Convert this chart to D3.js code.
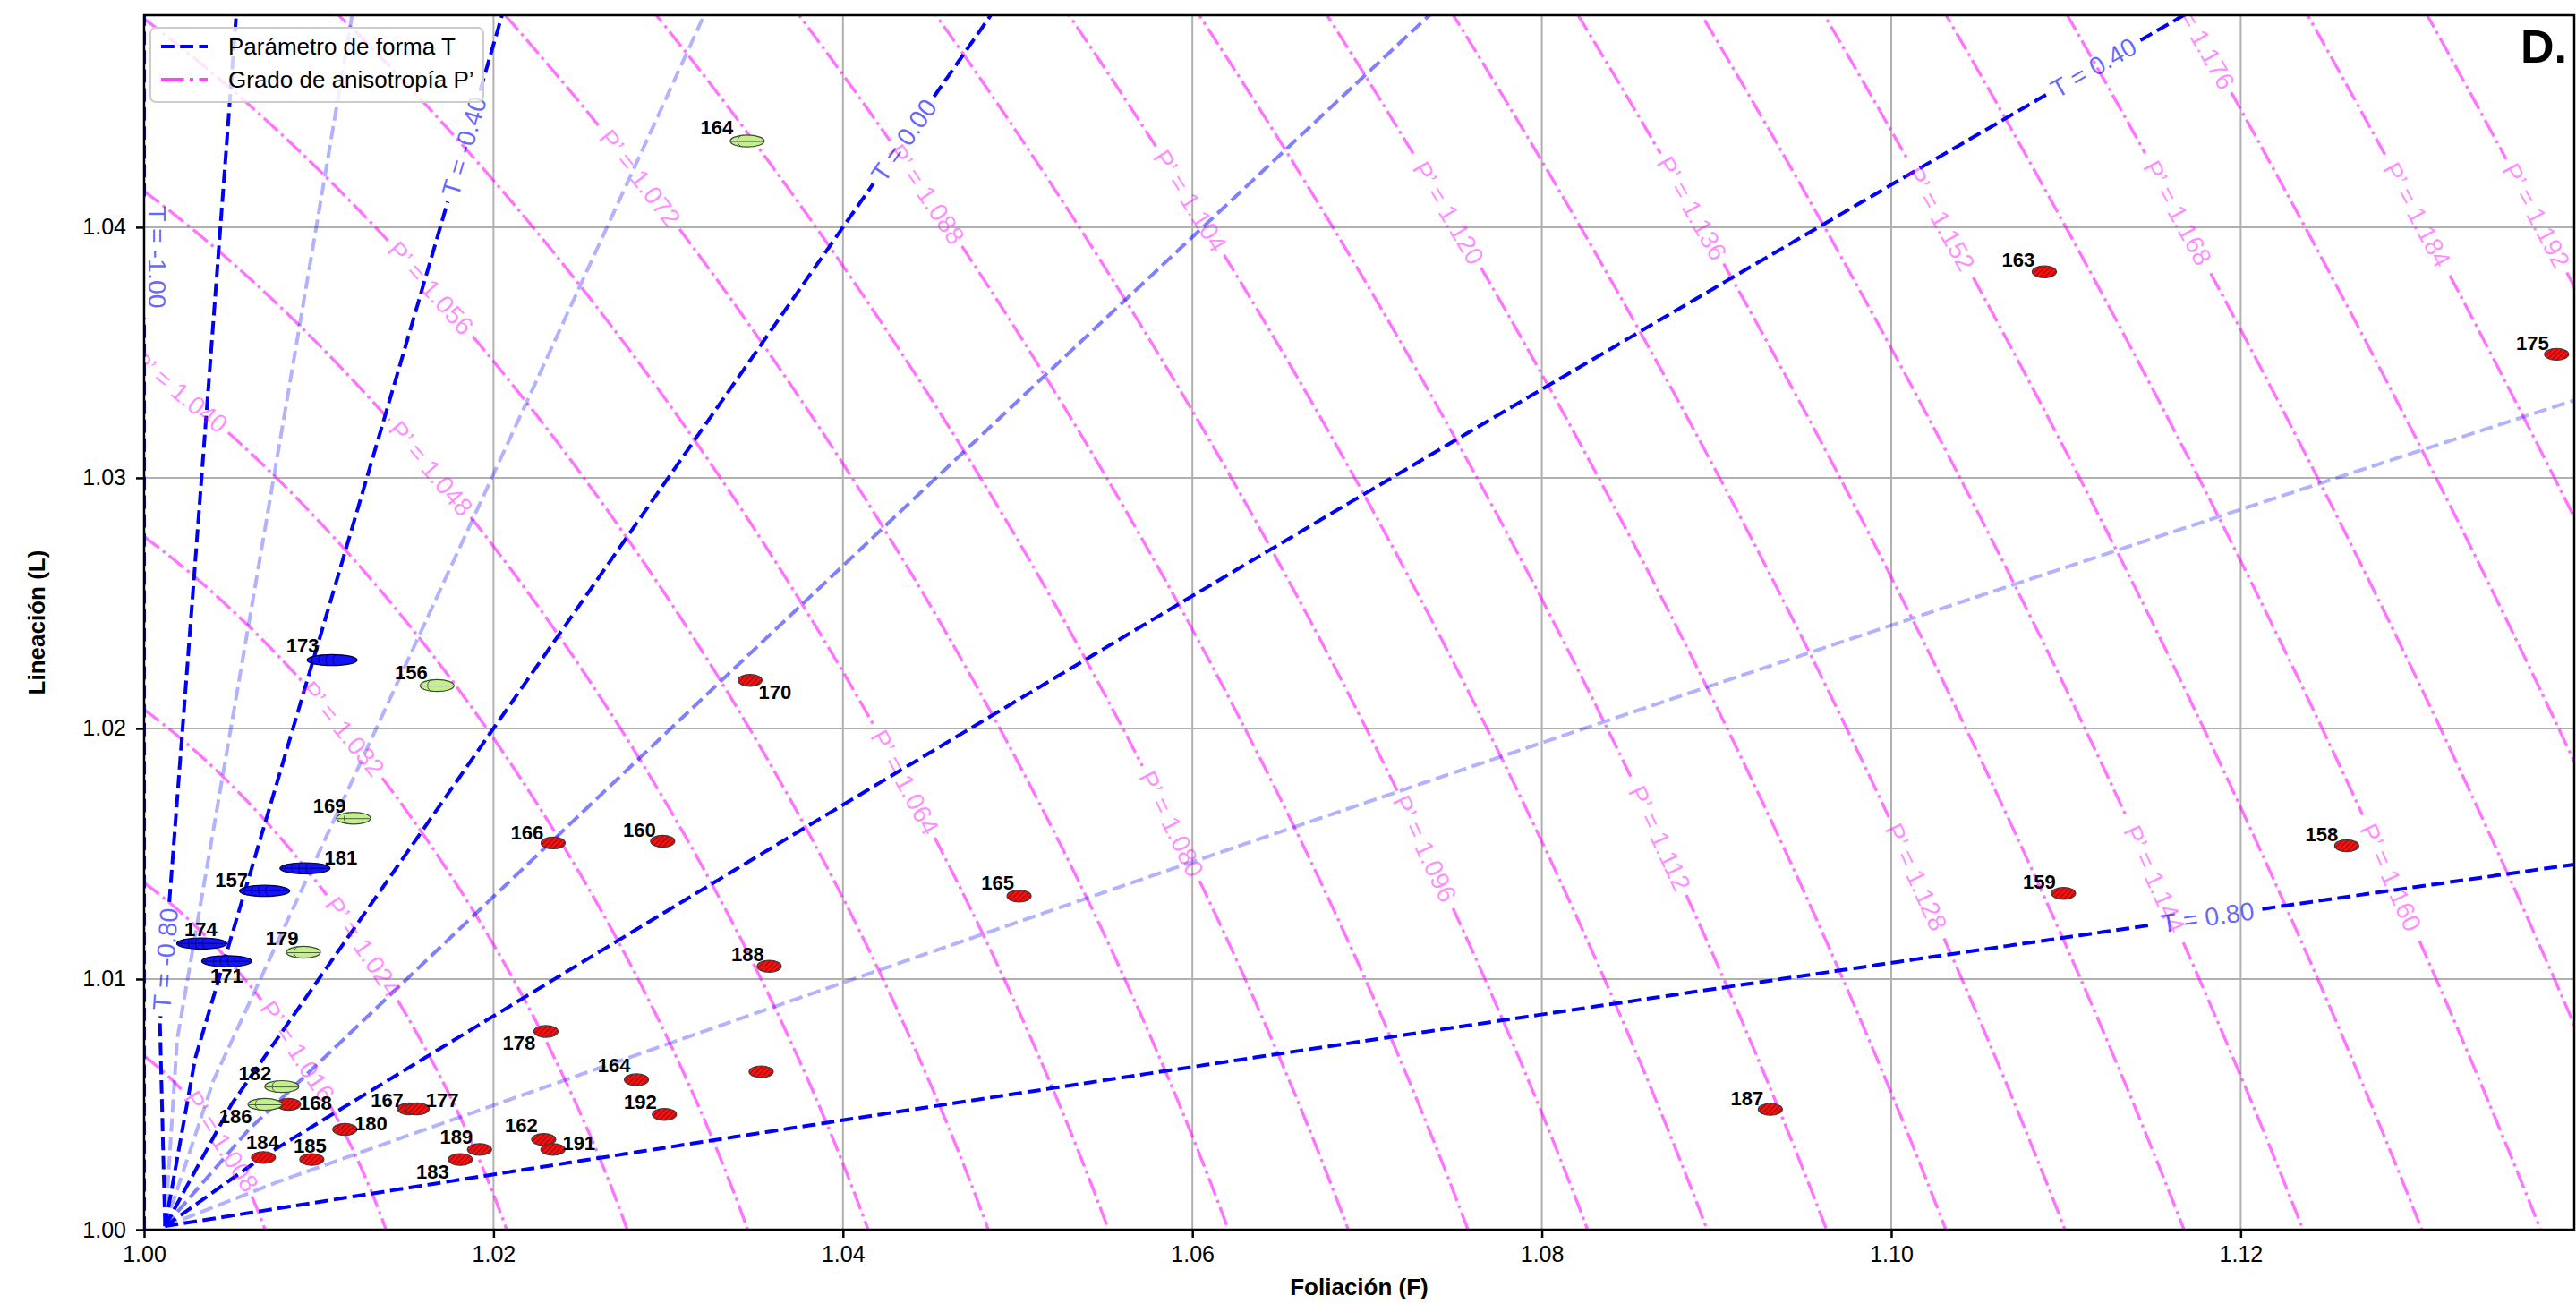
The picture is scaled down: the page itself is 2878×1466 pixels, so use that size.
<!DOCTYPE html>
<html><head><meta charset="utf-8">
<script src="https://cdn.jsdelivr.net/npm/d3@7"></script>
<style>
html,body{margin:0;padding:0;background:#fff;}
svg{display:block;font-family:"Liberation Sans",Arial,Helvetica,sans-serif;}
</style></head><body>
<svg id="chart" width="2878" height="1466"></svg>
<script>
// ---------------- DATA ----------------
const redIds = ["163","175","170","166","160","165","158","159","188","178","164","","192","187","162","191","167","177","168","180","189","183","184","185"];
const redF   = [1.10876,1.13808,1.03468,1.02341,1.02968,1.05008,1.12607,1.10986,1.03578,1.02300,1.02818,1.03532,1.02978,1.09308,1.02287,1.02340,1.01519,1.01563,1.00827,1.01149,1.01920,1.01810,1.00683,1.00960];
const redL   = [1.03822,1.03493,1.02192,1.01543,1.01550,1.01331,1.01532,1.01342,1.01051,1.00791,1.00598,1.00630,1.00460,1.00480,1.00360,1.00320,1.00482,1.00482,1.00500,1.00400,1.00320,1.00280,1.00288,1.00280];

const greenIds = ["164","156","169","179","182","186"];
const greenF   = [1.03452,1.01677,1.01199,1.00912,1.00788,1.00692];
const greenL   = [1.04344,1.02171,1.01642,1.01107,1.00571,1.00500];

const blueIds = ["173","181","157","174","171"];
const blueF   = [1.01076,1.00921,1.00690,1.00330,1.00473];
const blueL   = [1.02273,1.01442,1.01352,1.01142,1.01071];

const tLevels      = [-1.0,-0.8,-0.6,-0.4,-0.2,0.0,0.2,0.4,0.6,0.8];
const tLabelLevels = [-1.0,-0.8,-0.4,0.0,0.4,0.8];
const tLabelF      = [1.0,1.001076,1.018033,1.043264,1.111475,1.118033];
const tLabelL      = [1.03889,1.010786,1.04325,1.043536,1.0465,1.012643];

const pLevels = [1.008,1.016,1.024,1.032,1.040,1.048,1.056,1.064,1.072,1.080,1.088,1.096,1.104,1.112,1.120,1.128,1.136,1.144,1.152,1.160,1.168,1.176,1.184,1.192];
const pLabelF = [1.004688,1.008914,1.012859,1.011424,1.002254,1.016496,1.016496,1.043648,1.028432,1.058863,1.044908,1.073412,1.059923,1.086818,1.074744,1.101537,1.088576,1.114908,1.102895,1.128714,1.116573,1.118084,1.130225,1.137039];
const pLabelL = [1.003643,1.007179,1.011429,1.020036,1.033643,1.030429,1.037643,1.017893,1.042036,1.01625,1.041393,1.015286,1.041107,1.015607,1.040571,1.014071,1.040786,1.014071,1.040429,1.014071,1.040571,1.047821,1.040571,1.040536];

const xTicks = [1.00,1.02,1.04,1.06,1.08,1.10,1.12];
const yTicks = [1.00,1.01,1.02,1.03,1.04];
const xDomain = [1.0, 1.13909];
const yDomain = [1.0, 1.04846];
// T-contours converge on this grid node near the (undefined) origin
const tConverge = [1.0012, 1.00014];

// ---------------- LAYOUT / STYLE ----------------
const W = 2878, H = 1466;
const M = {left:161, right:2876, top:17, bottom:1374};
const labelOffsets = {
  "r170":[28,13],"r178":[-30,13],"r168":[30,-2],"r177":[28,-10],"r167":[-25,-10],"r180":[29,-7],
  "r191":[29,-7],"r183":[-31,13],"r184":[-1,-17],"r185":[-2,-16],"r162":[-25,-16],"r164":[-25,-16],
  "r166":[-29,-12],"r165":[-24,-15],"r188":[-24,-14],"r189":[-26,-14],"r192":[-27,-14],"r163":[-29,-14],
  "r175":[-27,-13],"r158":[-28,-13],"r159":[-27,-13],"r187":[-26,-13],"r160":[-26,-13],
  "g164":[-34,-15],"g156":[-29,-15],"g169":[-27,-14],"g179":[-24,-16],"g182":[-30,-15],"g186":[-33,13],
  "b173":[-33,-16],"b181":[40,-12],"b157":[-37,-12],"b174":[-1,-16],"b171":[0,16]
};

const svg = d3.select("#chart");
const x = d3.scaleLinear().domain(xDomain).range([M.left, M.right]);
const y = d3.scaleLinear().domain(yDomain).range([M.bottom, M.top]);

const defs = svg.append("defs");
defs.append("clipPath").attr("id","plotClip").append("rect")
  .attr("x",M.left).attr("y",M.top).attr("width",M.right-M.left).attr("height",M.bottom-M.top);
const pat = defs.append("pattern").attr("id","hatchRed").attr("patternUnits","userSpaceOnUse")
  .attr("width",4).attr("height",4).attr("patternTransform","rotate(45)");
pat.append("rect").attr("width",4).attr("height",4).attr("fill","#f01414");
pat.append("line").attr("x1",0.6).attr("y1",0).attr("x2",0.6).attr("y2",4).attr("stroke","#a80000").attr("stroke-width",1.1);

svg.append("rect").attr("width",W).attr("height",H).attr("fill","#fff");

// grid
const grid = svg.append("g");
grid.selectAll(".gx").data(xTicks).join("line")
  .attr("x1",d=>x(d)).attr("x2",d=>x(d)).attr("y1",M.top).attr("y2",M.bottom)
  .attr("stroke","#b0b0b0").attr("stroke-width",2);
grid.selectAll(".gy").data(yTicks).join("line")
  .attr("x1",M.left).attr("x2",M.right).attr("y1",d=>y(d)).attr("y2",d=>y(d))
  .attr("stroke","#b0b0b0").attr("stroke-width",2);

const plot = svg.append("g").attr("clip-path","url(#plotClip)");
const linesP = plot.append("g");
const linesT = plot.append("g");
const labG = plot.append("g");

// curves
function tCurve(T){
  const pts=[];
  if (T === -1){
    for (let i=0;i<=300;i++){ const a=i/300*Math.log(1.06); pts.push([1.0, Math.exp(a)]); }
    return pts;
  }
  const dB=1+T, dA=1-T;
  const k = 2*Math.sqrt((dA*dA+dA*dB+dB*dB)/3);
  const t0 = 0.01/k;
  const tMax = Math.min(Math.log(1.15)/dB, Math.log(1.06)/dA);
  pts.push(tConverge);
  for (let i=0;i<=800;i++){ const t=t0+(tMax-t0)*i/800; pts.push([Math.exp(dB*t), Math.exp(dA*t)]); }
  return pts;
}
function pCurve(P){
  const R = Math.log(P)*Math.sqrt(3)/2;
  const pts=[];
  for (let i=0;i<=800;i++){
    const b=R*i/800;
    const a=(-b+Math.sqrt(Math.max(0,4*R*R-3*b*b)))/2;
    pts.push([Math.exp(b), Math.exp(a)]);
  }
  return pts;
}

function drawContour(layer, pts, style, label){
  const px = pts.map(p=>[x(p[0]), y(p[1])]);
  const cum=[0];
  for (let i=1;i<px.length;i++) cum.push(cum[i-1]+Math.hypot(px[i][0]-px[i-1][0], px[i][1]-px[i-1][1]));
  let cut=null;
  if (label){
    const tx=x(label.F), ty=y(label.L);
    let best=0, bd=Infinity;
    px.forEach((p,i)=>{const d=(p[0]-tx)**2+(p[1]-ty)**2; if(d<bd){bd=d;best=i;}});
    let i0=best, i1=best;
    while(i0>0 && cum[best]-cum[i0]<6) i0--;
    while(i1<px.length-1 && cum[i1]-cum[best]<6) i1++;
    let ang=Math.atan2(px[i1][1]-px[i0][1], px[i1][0]-px[i0][0])*180/Math.PI;
    if (ang>90) ang-=180;
    if (ang<=-90) ang+=180;
    let cx=px[best][0], cy=px[best][1];
    if (label.nudge) cx += label.nudge;
    const t = labG.append("text").text(label.text)
      .attr("font-size",28.5).attr("fill",label.color).attr("fill-opacity",label.opacity)
      .attr("text-anchor","middle").attr("dy","0.36em")
      .attr("transform",`translate(${cx},${cy}) rotate(${ang})`);
    const w = t.node().getComputedTextLength();
    cut=[cum[best]-w/2-6, cum[best]+w/2+6];
  }
  const segs=[]; let cur=[];
  px.forEach((p,i)=>{
    if (cut && cum[i]>cut[0] && cum[i]<cut[1]){ if(cur.length>1) segs.push(cur); cur=[]; }
    else cur.push(p);
  });
  if (cur.length>1) segs.push(cur);
  const line=d3.line();
  segs.forEach(s=>{
    layer.append("path").attr("d",line(s)).attr("fill","none")
      .attr("stroke",style.color).attr("stroke-opacity",style.opacity)
      .attr("stroke-width",style.width).attr("stroke-dasharray",style.dash);
  });
}

// P' contours
pLevels.forEach((P,i)=>{
  drawContour(linesP, pCurve(P), {color:"#ff00ff",opacity:0.55,width:3.4,dash:"21,5.2,3.4,5.2"},
    {F:pLabelF[i], L:pLabelL[i], text:"P\u2019 = "+P.toFixed(3), color:"#ff00ff", opacity:0.45});
});

// T contours
const boldT=[-1,-0.8,-0.4,0,0.4,0.8];
tLevels.forEach(T=>{
  const bold = boldT.some(v=>Math.abs(v-T)<1e-9);
  const op = bold?1:(Math.abs(T-0.2)<1e-9?0.5:0.3);
  const li = tLabelLevels.findIndex(v=>Math.abs(v-T)<1e-9);
  const lab = li>=0 ? {F:tLabelF[li], L:tLabelL[li], text:"T = "+T.toFixed(2), color:"#0000ff", opacity:0.6, nudge:(T===-1?15:0)} : null;
  drawContour(linesT, tCurve(T), {color:"#0000ff",opacity:op,width:4,dash:"14.8,6.4"}, lab);
});

// markers
const mk = svg.append("g");
function ptsOf(ids,F,L,g){ return ids.map((id,i)=>({id,F:F[i],L:L[i],g})); }
const reds = ptsOf(redIds,redF,redL,"r");
const greens = ptsOf(greenIds,greenF,greenL,"g");
const blues = ptsOf(blueIds,blueF,blueL,"b");

reds.forEach(d=>{
  const g=mk.append("g").attr("transform",`translate(${x(d.F)},${y(d.L)})`);
  g.append("ellipse").attr("rx",13.5).attr("ry",6.6).attr("fill","url(#hatchRed)")
    .attr("stroke","#3c3c3c").attr("stroke-width",1.2);
});
greens.forEach(d=>{
  const g=mk.append("g").attr("transform",`translate(${x(d.F)},${y(d.L)})`);
  const rx=19, ry=6.6;
  g.append("ellipse").attr("rx",rx).attr("ry",ry).attr("fill","#c4f08c").attr("stroke","#3c4a34").attr("stroke-width",1.2);
  g.append("line").attr("x1",-rx+1).attr("x2",rx-1).attr("y1",0.5).attr("y2",0.5).attr("stroke","#4d6040").attr("stroke-width",1);
  g.append("path").attr("d",`M ${-5},${-ry*0.98} A 7 ${ry} 0 0 0 ${-5},${ry*0.98}`).attr("fill","none").attr("stroke","#4d6040").attr("stroke-width",1);
});
blues.forEach(d=>{
  const g=mk.append("g").attr("transform",`translate(${x(d.F)},${y(d.L)})`);
  const rx=28, ry=6.2;
  g.append("ellipse").attr("rx",rx).attr("ry",ry).attr("fill","#1212ff").attr("stroke","#000030").attr("stroke-width",1.2);
  g.append("line").attr("x1",-rx+1).attr("x2",rx-1).attr("y1",0).attr("y2",0).attr("stroke","#000070").attr("stroke-width",0.9);
  [-19,-11,-3,5].forEach(xi=>{
    const h=ry*Math.sqrt(1-(xi/rx)**2);
    g.append("path").attr("d",`M ${xi},${-h} A 4 ${h} 0 0 0 ${xi},${h}`).attr("fill","none").attr("stroke","#000070").attr("stroke-width",0.9);
  });
});

// point labels
const pl = svg.append("g");
[...reds,...greens,...blues].forEach(d=>{
  if (!d.id) return;
  const o = labelOffsets[d.g+d.id] || [-28,-14];
  pl.append("text").text(d.id).attr("x",x(d.F)+o[0]).attr("y",y(d.L)+o[1]).attr("dy","0.36em")
    .attr("text-anchor","middle").attr("font-size",22).attr("font-weight","bold").attr("fill","#000");
});

// axes
const xAxis = svg.append("g").attr("transform",`translate(0,${M.bottom})`)
  .call(d3.axisBottom(x).tickValues(xTicks).tickFormat(d3.format(".2f")).tickSize(9).tickPadding(9));
const yAxis = svg.append("g").attr("transform",`translate(${M.left},0)`)
  .call(d3.axisLeft(y).tickValues(yTicks).tickFormat(d3.format(".2f")).tickSize(9).tickPadding(11));
[xAxis,yAxis].forEach(a=>{
  a.select(".domain").remove();
  a.selectAll(".tick line").attr("stroke","#000").attr("stroke-width",2.5);
  a.selectAll(".tick text").attr("font-size",25).attr("fill","#000").attr("font-family","Liberation Sans, Arial, sans-serif");
});
svg.append("rect").attr("x",M.left).attr("y",M.top).attr("width",M.right-M.left).attr("height",M.bottom-M.top)
  .attr("fill","none").attr("stroke","#000").attr("stroke-width",2.5);

svg.append("text").text("Foliación (F)").attr("x",(M.left+M.right)/2).attr("y",1447)
  .attr("text-anchor","middle").attr("font-size",26).attr("font-weight","bold");
svg.append("text").text("Lineación (L)").attr("transform",`translate(50,${(M.top+M.bottom)/2}) rotate(-90)`)
  .attr("text-anchor","middle").attr("font-size",26).attr("font-weight","bold");

// legend
const lg = svg.append("g");
lg.append("rect").attr("x",168).attr("y",31).attr("width",372).attr("height",83).attr("rx",6)
  .attr("fill","#fff").attr("fill-opacity",0.8).attr("stroke","#cccccc").attr("stroke-width",2);
lg.append("line").attr("x1",180).attr("x2",232).attr("y1",52).attr("y2",52)
  .attr("stroke","#0000ff").attr("stroke-width",4).attr("stroke-dasharray","14.8,6.4");
lg.append("line").attr("x1",180).attr("x2",232).attr("y1",89).attr("y2",89)
  .attr("stroke","#ff00ff").attr("stroke-opacity",0.75).attr("stroke-width",4).attr("stroke-dasharray","25.6,6.4,4,6.4");
lg.append("text").text("Parámetro de forma T").attr("x",255).attr("y",52).attr("dy","0.36em").attr("font-size",26);
lg.append("text").text("Grado de anisotropía P\u2019").attr("x",255).attr("y",89).attr("dy","0.36em").attr("font-size",26);

svg.append("text").text("D.").attr("x",2842).attr("y",70).attr("text-anchor","middle")
  .attr("font-size",52).attr("font-weight","bold");
</script>
</body></html>
